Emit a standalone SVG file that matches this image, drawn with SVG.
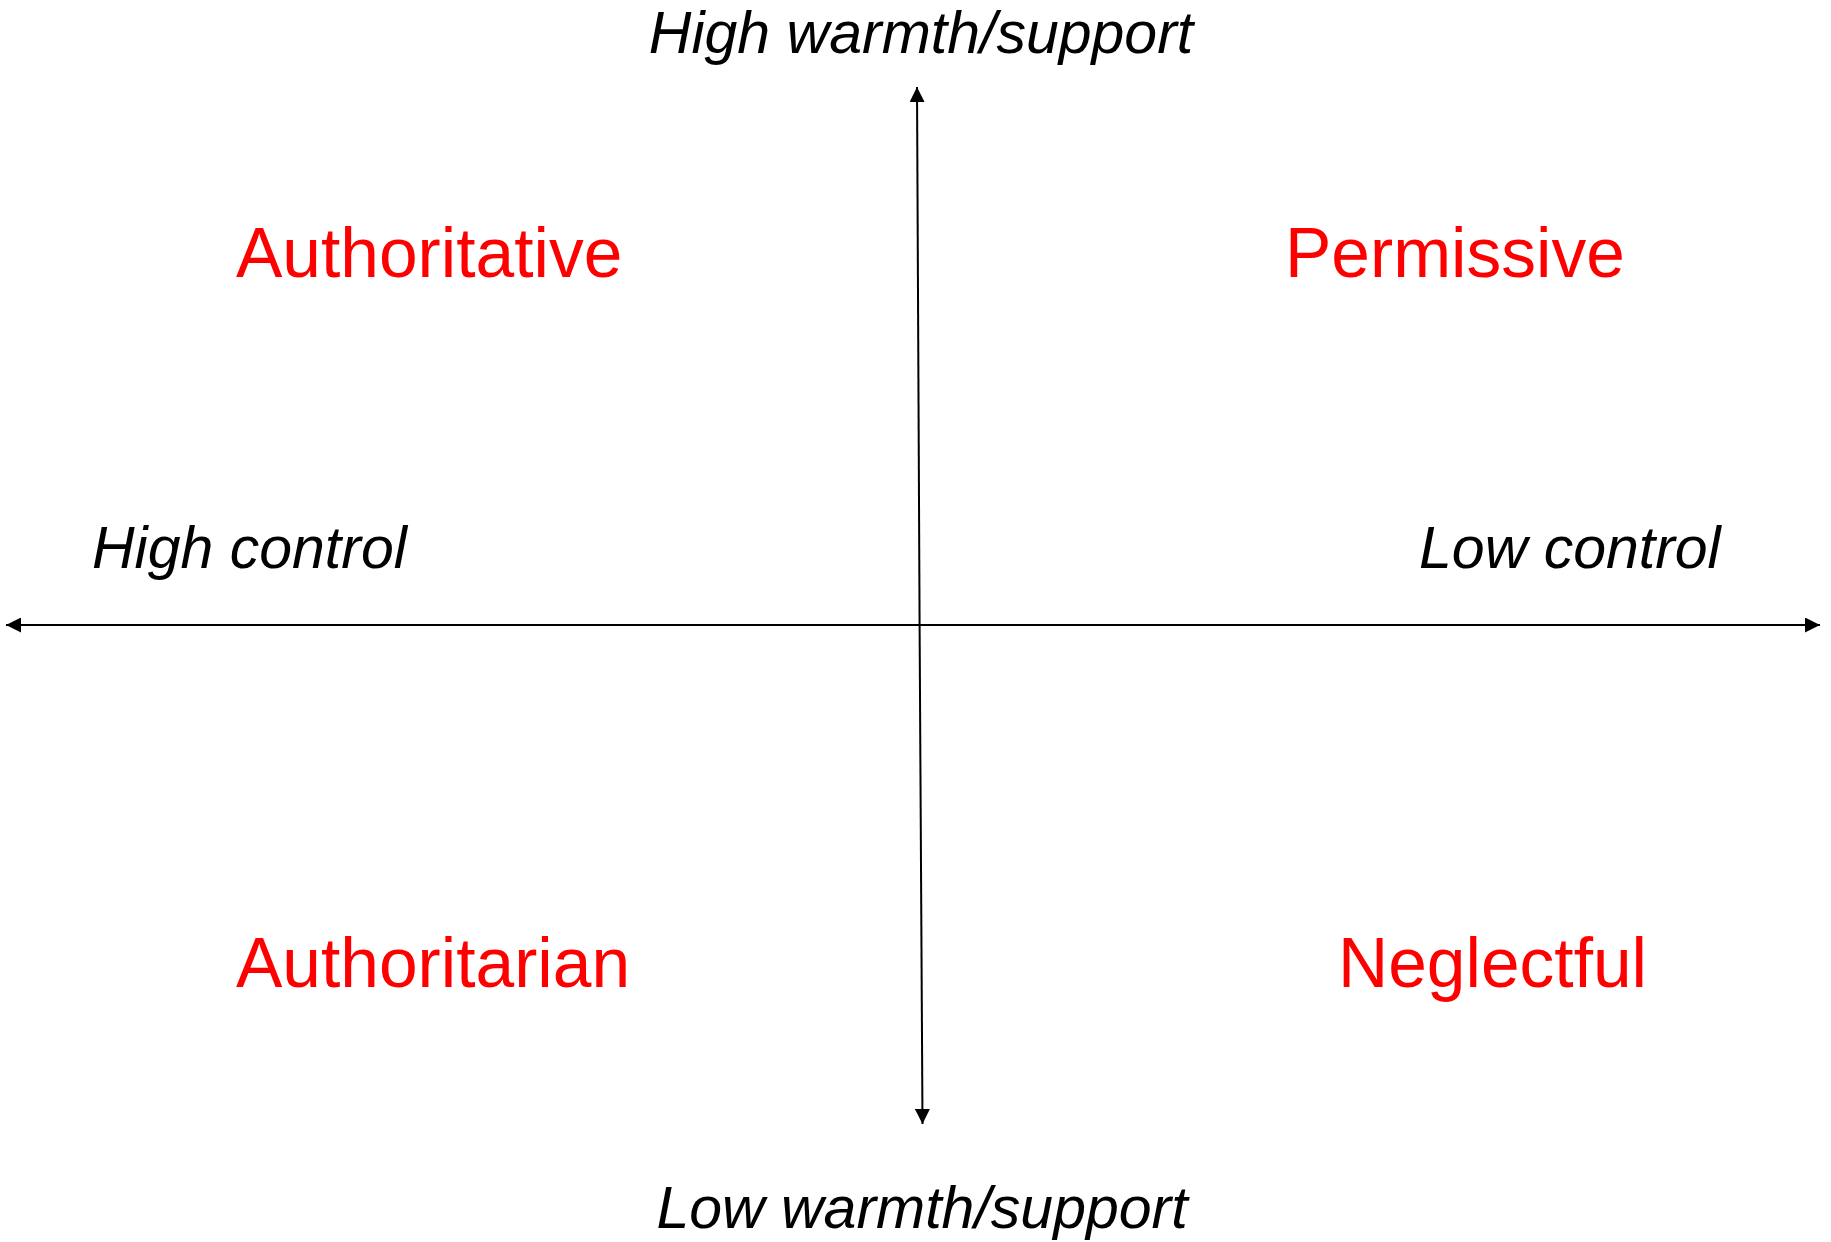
<svg xmlns="http://www.w3.org/2000/svg" width="1831" height="1242" viewBox="0 0 1831 1242">
<style>
.axis{font-family:"Liberation Sans",Arial,sans-serif;font-style:italic;font-size:59px;fill:#000}
.quad{font-family:"Liberation Sans",Arial,sans-serif;font-size:69.5px;fill:#FF0000}
.ln{stroke:#000;stroke-width:2;fill:none}
</style>
<defs>
<marker id="ah" viewBox="0 0 10 10" refX="10" refY="5" markerWidth="15" markerHeight="15" markerUnits="userSpaceOnUse" orient="auto">
<path d="M0,0 L10,5 L0,10 Z" fill="#000"/>
</marker>
</defs>
<g id="connectors">
<line class="ln" x1="919" y1="625" x2="6" y2="625" marker-end="url(#ah)"/>
<line class="ln" x1="919" y1="625" x2="1820" y2="625" marker-end="url(#ah)"/>
<line class="ln" x1="919.6" y1="625" x2="917" y2="87" marker-end="url(#ah)"/>
<line class="ln" x1="919.6" y1="625" x2="922.5" y2="1124" marker-end="url(#ah)"/>
</g>
<g id="high-warmth"><text class="axis" x="921" y="53" text-anchor="middle">High warmth/support</text></g>
<g id="low-warmth"><text class="axis" x="922" y="1228" text-anchor="middle">Low warmth/support</text></g>
<g id="high-control"><text class="axis" x="92" y="568">High control</text></g>
<g id="low-control"><text class="axis" x="1419" y="568">Low control</text></g>
<g id="authoritative"><text class="quad" x="236" y="277">Authoritative</text></g>
<g id="permissive"><text class="quad" x="1285" y="277">Permissive</text></g>
<g id="authoritarian"><text class="quad" x="236" y="987">Authoritarian</text></g>
<g id="neglectful"><text class="quad" x="1338" y="987">Neglectful</text></g>
</svg>
